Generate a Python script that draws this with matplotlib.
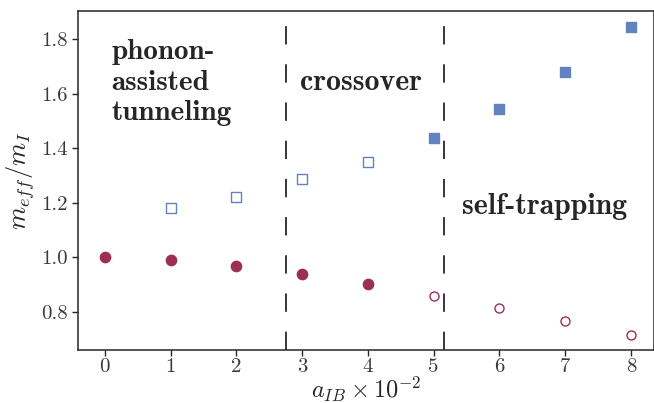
import matplotlib
matplotlib.use("Agg")
import matplotlib.pyplot as plt
import numpy as np

# Data
a_circle_filled = [0, 1, 2, 3, 4]
m_circle_filled = [1.000, 0.990, 0.969, 0.939, 0.901]
a_circle_open = [5, 6, 7, 8]
m_circle_open = [0.860, 0.815, 0.768, 0.716]
a_square_open = [1, 2, 3, 4]
m_square_open = [1.181, 1.221, 1.287, 1.349]
a_square_filled = [5, 6, 7, 8]
m_square_filled = [1.437, 1.544, 1.680, 1.845]
boundaries = [2.75, 5.15]
xticks = [0, 1, 2, 3, 4, 5, 6, 7, 8]
yticks = [0.8, 1.0, 1.2, 1.4, 1.6, 1.8]

plt.rcParams['font.family'] = 'serif'
plt.rcParams['font.serif'] = ['cmr10']
plt.rcParams['mathtext.fontset'] = 'cm'
plt.rcParams['axes.formatter.use_mathtext'] = True

red = '#9c3050'
blue = '#6283bf'
txt = '#262626'

fig = plt.figure(figsize=(6.54, 4.03), dpi=100)
ax = fig.add_axes([0.119, 0.1315, 0.881, 0.8412])

ax.scatter(a_circle_filled, m_circle_filled, s=55, marker='o', color=red, edgecolor=red, zorder=3)
ax.scatter(a_circle_open, m_circle_open, s=42, marker='o', facecolor='white', edgecolor=red, linewidths=1.0, zorder=3)
ax.scatter(a_square_open, m_square_open, s=48, marker='s', facecolor='white', edgecolor=blue, linewidths=1.0, zorder=3)
ax.scatter(a_square_filled, m_square_filled, s=58, marker='s', color=blue, edgecolor=blue, zorder=3)

for b in boundaries:
    ax.axvline(b, color='black', lw=1.1, dashes=(12, 13))

ax.set_xlim(-0.41, 8.35)
ax.set_ylim(0.661, 1.903)
ax.set_xticks(xticks)
ax.set_yticks(yticks)
ax.set_xticklabels([str(v) for v in xticks])
ax.set_yticklabels(['%.1f' % v for v in yticks])
ax.tick_params(labelsize=15, colors=txt, length=4, width=1, direction='out')
ax.tick_params(axis='x', pad=1.5)
for lab in ax.get_xticklabels() + ax.get_yticklabels():
    lab.set_color('#3a3a3a')

ax.set_xlabel(r'$a_{IB} \times 10^{-2}$', fontsize=17.5, color=txt, labelpad=-1)
ax.set_ylabel(r'$m_{eff}/m_I$', fontsize=19, color=txt, labelpad=3)

for s in ax.spines.values():
    s.set_color(txt)
    s.set_linewidth(1.1)

ax.text(0.1, 1.80, 'phonon-\nassisted\ntunneling', family='cmb10', fontsize=21,
        color=txt, va='top', ha='left', linespacing=1.22)
ax.text(2.97, 1.642, 'crossover', family='cmb10', fontsize=21.5, color=txt, va='center', ha='left')
ax.text(5.43, 1.185, 'self-trapping', family='cmb10', fontsize=21.5, color=txt, va='center', ha='left')

fig.savefig('out.png', dpi=100)
